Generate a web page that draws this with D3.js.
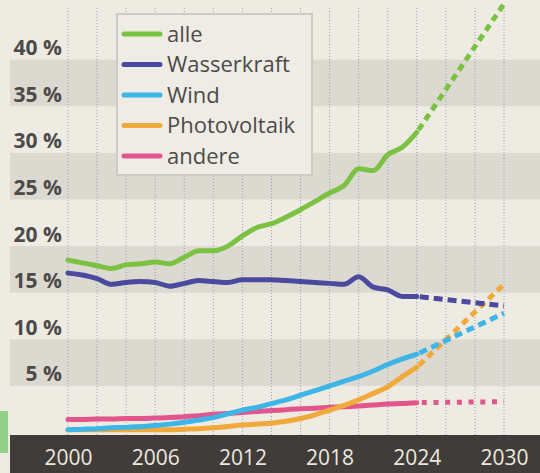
<!DOCTYPE html>
<html lang="de">
<head>
  <meta charset="UTF-8">
  <title>Anteil erneuerbarer Energien</title>
  <style>
    body { margin: 0; background: #eeebe3; }
    svg { display: block; font-family: 'Open Sans', 'Noto Sans', sans-serif; }
  </style>
</head>
<body>
  <svg id="chart" width="540" height="473"></svg>

  <script src="https://d3js.org/d3.v7.min.js"></script>
  <script>
    // values in %
    const years = d3.range(2000, 2025);
    const alle = [18.5, 18.2, 17.9, 17.6, 18.0, 18.1, 18.3, 18.1, 18.8, 19.5, 19.5, 20.0, 21.1, 22.0, 22.4, 23.1, 23.9, 24.8, 25.7, 26.5, 28.3, 28.1, 29.8, 30.6, 32.2];
    const wasserkraft = [17.1, 16.9, 16.5, 15.9, 16.1, 16.2, 16.1, 15.7, 16.0, 16.3, 16.2, 16.1, 16.4, 16.4, 16.4, 16.3, 16.2, 16.1, 16.0, 15.9, 16.7, 15.6, 15.3, 14.6, 14.6];
    const wind = [0.3, 0.35, 0.4, 0.5, 0.55, 0.65, 0.75, 0.9, 1.1, 1.35, 1.6, 2.0, 2.4, 2.7, 3.1, 3.5, 4.0, 4.5, 5.0, 5.5, 6.0, 6.6, 7.3, 7.9, 8.4];
    const photovoltaik = [0.3, 0.3, 0.3, 0.3, 0.3, 0.3, 0.3, 0.3, 0.35, 0.4, 0.5, 0.65, 0.8, 0.9, 1.0, 1.2, 1.5, 1.9, 2.4, 2.9, 3.5, 4.2, 4.9, 6.0, 7.0];
    const andere = [1.4, 1.4, 1.45, 1.45, 1.5, 1.5, 1.55, 1.6, 1.7, 1.8, 1.95, 2.05, 2.15, 2.25, 2.35, 2.45, 2.55, 2.6, 2.7, 2.75, 2.85, 2.95, 3.05, 3.1, 3.2];
    // projection 2030
    const ziel2030 = { alle: 46, wasserkraft: 13.6, wind: 12.8, photovoltaik: 15.9, andere: 3.3 };

    const yTicks = [5, 10, 15, 20, 25, 30, 35, 40];
    const xTicks = [2000, 2006, 2012, 2018, 2024, 2030];
    const gridYears = d3.range(2000, 2031, 2);

    const series = [
      { key: 'andere', label: 'andere', values: andere, color: '#e2568e', dash: '5,6.7' },
      { key: 'photovoltaik', label: 'Photovoltaik', values: photovoltaik, color: '#f2a93b', dash: '7,5' },
      { key: 'wind', label: 'Wind', values: wind, color: '#3db5e6', dash: '8,5' },
      { key: 'wasserkraft', label: 'Wasserkraft', values: wasserkraft, color: '#4b4a9e', dash: '9,5' },
      { key: 'alle', label: 'alle', values: alle, color: '#7cc242', dash: '7,5' }
    ];
    const legendOrder = ['alle', 'wasserkraft', 'wind', 'photovoltaik', 'andere'];

    const svg = d3.select('#chart');
    const x = d3.scaleLinear().domain([2000, 2030]).range([68, 504]);
    const y = d3.scaleLinear().domain([0, 40]).range([432.5, 59.7]);

    // page background
    svg.append('rect').attr('width', 540).attr('height', 473).attr('fill', '#eeebe3');

    // grey bands
    svg.append('g').selectAll('rect')
      .data([5, 15, 25, 35])
      .enter().append('rect')
      .attr('x', 10).attr('width', 530)
      .attr('y', d => y(d + 5))
      .attr('height', d => y(d) - y(d + 5))
      .attr('fill', '#dcd9d1');

    // dotted vertical grid
    svg.append('g').selectAll('line')
      .data(gridYears)
      .enter().append('line')
      .attr('x1', d => x(d)).attr('x2', d => x(d))
      .attr('y1', 8).attr('y2', 435)
      .attr('stroke', '#8fa3b5')
      .attr('stroke-width', 1)
      .attr('stroke-dasharray', '1,2');

    // legend box (covers grid + bands)
    svg.append('rect')
      .attr('x', 117).attr('y', 14).attr('width', 195).attr('height', 161)
      .attr('fill', '#efece5')
      .attr('stroke', '#cfcbc3').attr('stroke-width', 2);

    // y axis labels
    const yAxis = svg.append('g')
      .attr('transform', 'translate(62,0)')
      .call(d3.axisLeft(y).tickValues(yTicks).tickSize(0).tickPadding(0).tickFormat(d => d + ' %'));
    yAxis.select('.domain').remove();
    yAxis.selectAll('text')
      .attr('dy', -5)
      .attr('dominant-baseline', 'auto')
      .attr('font-family', "'Open Sans', sans-serif")
      .attr('font-size', 21)
      .attr('font-weight', 700)
      .attr('fill', '#4d4b4a');

    // dark x axis bar
    svg.append('rect')
      .attr('x', 10).attr('y', 435).attr('width', 530).attr('height', 38)
      .attr('fill', '#403c3a');

    const xAxis = svg.append('g')
      .attr('transform', 'translate(0,465)')
      .call(d3.axisBottom(x).tickValues(xTicks).tickSize(0).tickPadding(0).tickFormat(d3.format('d')));
    xAxis.select('.domain').remove();
    xAxis.selectAll('text')
      .attr('dy', 0)
      .attr('y', 0)
      .attr('font-family', "'Open Sans', sans-serif")
      .attr('font-size', 21)
      .attr('fill', '#ece8de');

    // lines
    const line = d3.line()
      .x(d => x(d[0]))
      .y(d => y(d[1]))
      .curve(d3.curveMonotoneX);

    const lines = svg.append('g').attr('fill', 'none').attr('stroke-width', 5);

    series.forEach(s => {
      const pts = years.map((yr, i) => [yr, s.values[i]]);
      lines.append('path')
        .attr('d', line(pts))
        .attr('stroke', s.color)
        .attr('stroke-linejoin', 'round')
        .attr('stroke-linecap', 'round');
      const last = pts[pts.length - 1];
      const proj = [last, [2030, ziel2030[s.key]]];
      lines.append('path')
        .attr('d', d3.line().x(d => x(d[0])).y(d => y(d[1]))(proj))
        .attr('stroke', s.color)
        .attr('stroke-dasharray', s.dash)
        .attr('stroke-dashoffset', s.key === 'andere' ? -5 : -3);
    });

    // legend
    const legend = svg.append('g');
    legendOrder.forEach((k, i) => {
      const s = series.find(d => d.key === k);
      const ly = 34 + i * 30.5;
      legend.append('line')
        .attr('x1', 124).attr('x2', 160)
        .attr('y1', ly).attr('y2', ly)
        .attr('stroke', s.color).attr('stroke-width', 5)
        .attr('stroke-linecap', 'round');
      legend.append('text')
        .attr('x', 167).attr('y', ly)
        .attr('dy', '0.35em')
        .attr('font-size', 22)
        .attr('fill', '#4d4b4a')
        .text(s.label);
    });

    // green edge of neighbouring box in the scan
    svg.append('rect')
      .attr('x', 0).attr('y', 411).attr('width', 8).attr('height', 42)
      .attr('fill', '#93cf86');
  </script>
</body>
</html>
